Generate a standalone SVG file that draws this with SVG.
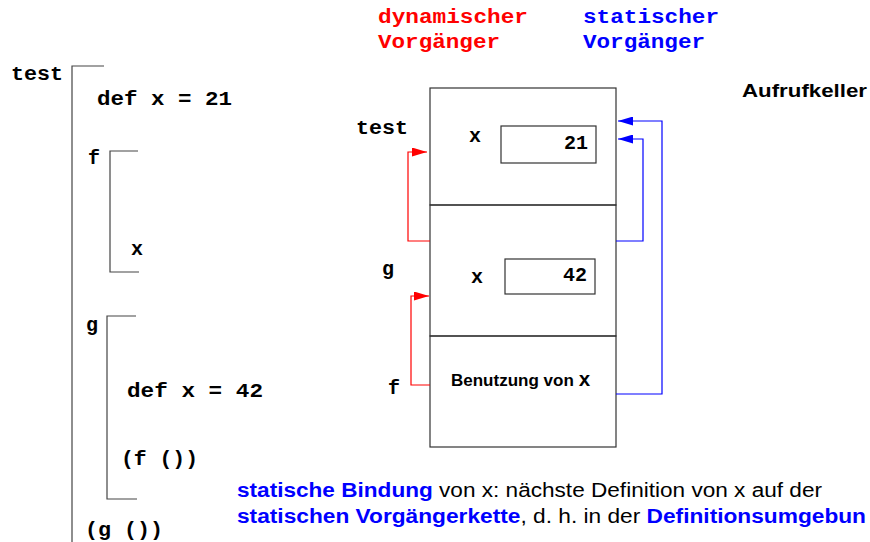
<svg xmlns="http://www.w3.org/2000/svg" width="870" height="542" viewBox="0 0 870 542">
<style>
.m{font-family:"Liberation Mono","Courier New",monospace;font-weight:bold;font-size:20px;fill:#000}
.s{font-family:"Liberation Sans",Arial,sans-serif;font-weight:bold;fill:#000}
.n{font-family:"Liberation Sans",Arial,sans-serif;font-size:20px;fill:#000}
.b{font-weight:bold;fill:#0000ff}
.br{fill:none;stroke:#444;stroke-width:1.2}
.box{fill:none;stroke:#333;stroke-width:1.2}
.red{fill:none;stroke:#ff0000;stroke-width:1.2}
.blue{fill:none;stroke:#0000ff;stroke-width:1.2}
</style>
<defs>
<marker id="ar" markerWidth="15" markerHeight="9" refX="15" refY="4.5" orient="auto" markerUnits="userSpaceOnUse"><path d="M0,0 L15,4.5 L0,9 Z" fill="#ff0000"/></marker>
<marker id="ab" markerWidth="15" markerHeight="9" refX="15" refY="4.5" orient="auto" markerUnits="userSpaceOnUse"><path d="M0,0 L15,4.5 L0,9 Z" fill="#0000ff"/></marker>
</defs>
<rect width="870" height="542" fill="#fff"/>

<g id="code">
<g id="test-block">
<path class="br" d="M104,66 H72 V542"/>
<text class="m" x="11" y="80" textLength="52" lengthAdjust="spacingAndGlyphs">test</text>
<text class="m" x="97" y="105" textLength="135" lengthAdjust="spacingAndGlyphs">def x = 21</text>
<text class="m" x="85" y="536" textLength="78" lengthAdjust="spacingAndGlyphs">(g ())</text>
</g>
<g id="f-block">
<path class="br" d="M138,151 H110 V272 H139"/>
<text class="m" x="88" y="164">f</text>
<text class="m" x="131" y="255">x</text>
</g>
<g id="g-block">
<path class="br" d="M136,316 H107 V499 H137"/>
<text class="m" x="86" y="331">g</text>
<text class="m" x="127" y="397" textLength="136" lengthAdjust="spacingAndGlyphs">def x = 42</text>
<text class="m" x="121" y="465" textLength="77" lengthAdjust="spacingAndGlyphs">(f ())</text>
</g>
</g>

<g id="legend">
<text class="m" x="378" y="23" style="fill:#ff0000" textLength="150" lengthAdjust="spacingAndGlyphs">dynamischer</text>
<text class="m" x="378" y="48" style="fill:#ff0000" textLength="122" lengthAdjust="spacingAndGlyphs">Vorgänger</text>
<text class="m" x="583" y="23" style="fill:#0000ff" textLength="136" lengthAdjust="spacingAndGlyphs">statischer</text>
<text class="m" x="583" y="48" style="fill:#0000ff" textLength="122" lengthAdjust="spacingAndGlyphs">Vorgänger</text>
<text class="s" x="742" y="97" font-size="19" textLength="125" lengthAdjust="spacingAndGlyphs">Aufrufkeller</text>
</g>

<g id="frame-test">
<rect class="box" x="430" y="88" width="186" height="117"/>
<text class="m" x="356" y="134" textLength="52" lengthAdjust="spacingAndGlyphs">test</text>
<text class="m" x="469" y="142">x</text>
<rect class="box" x="501" y="126" width="95" height="37"/>
<text class="m" x="588" y="149" text-anchor="end">21</text>
</g>
<g id="frame-g">
<rect class="box" x="430" y="205" width="186" height="131"/>
<text class="m" x="382" y="275">g</text>
<text class="m" x="471" y="283">x</text>
<rect class="box" x="505" y="259" width="90" height="35"/>
<text class="m" x="587" y="281" text-anchor="end">42</text>
</g>
<g id="frame-f">
<rect class="box" x="430" y="336" width="186" height="111"/>
<text class="m" x="388" y="394">f</text>
<text x="451" y="386"><tspan class="s" font-size="17">Benutzung von </tspan><tspan class="m" font-size="20">x</tspan></text>
</g>

<g id="connectors">
<polyline class="red" points="430,241 408,241 408,152 427,152" marker-end="url(#ar)"/>
<polyline class="red" points="430,385 411,385 411,296 429,296" marker-end="url(#ar)"/>
<polyline class="blue" points="616,241 643,241 643,139 618,139" marker-end="url(#ab)"/>
<polyline class="blue" points="616,394 662,394 662,121 618,121" marker-end="url(#ab)"/>
</g>

<g id="note">
<text class="n" x="237" y="497" textLength="585" lengthAdjust="spacingAndGlyphs"><tspan class="b">statische Bindung</tspan> von x: nächste Definition von x auf der</text>
<text class="n" x="237" y="523" textLength="629" lengthAdjust="spacingAndGlyphs"><tspan class="b">statischen Vorgängerkette</tspan>, d. h. in der <tspan class="b">Definitionsumgebun</tspan></text>
</g>
</svg>
